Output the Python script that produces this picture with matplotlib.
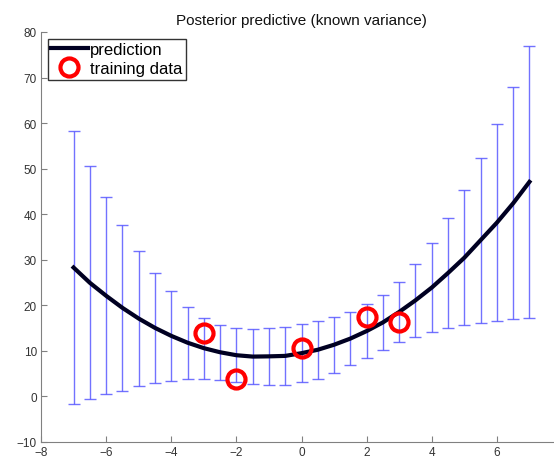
import numpy as np
import matplotlib
matplotlib.use("Agg")
import matplotlib.pyplot as plt

# ------------------------------------- Data -----#
x_grid = [-7, -6.5, -6, -5.5, -5, -4.5, -4, -3.5, -3, -2.5, -2, -1.5, -1, -0.5,
          0, 0.5, 1, 1.5, 2, 2.5, 3, 3.5, 4, 4.5, 5, 5.5, 6, 6.5, 7]
upper = [58.2, 50.5, 43.7, 37.6, 31.9, 27.1, 23.1, 19.7, 17.3, 15.7, 15.0, 14.7, 15.0, 15.2,
         15.9, 16.6, 17.5, 18.6, 20.2, 22.3, 25.2, 29.1, 33.6, 39.2, 45.3, 52.4, 59.7, 67.9, 77.0]
lower = [-1.6, -0.6, 0.5, 1.3, 2.3, 3.0, 3.5, 3.9, 3.9, 3.7, 3.1, 2.8, 2.6, 2.6,
         3.1, 3.9, 5.2, 6.8, 8.5, 10.2, 11.9, 13.1, 14.2, 15.0, 15.6, 16.2, 16.6, 16.9, 17.2]
x_train = [-3, -2, 0, 2, 3]
y_train = [14.0, 3.8, 10.7, 17.5, 16.3]

x_grid = np.array(x_grid)
upper = np.array(upper)
lower = np.array(lower)
mu = (upper + lower) / 2
err = (upper - lower) / 2

plt.rcParams['font.family'] = ['Liberation Sans', 'DejaVu Sans']

fig = plt.figure(figsize=(5.54, 4.6), dpi=100)
ax = fig.add_axes([41 / 554, 17 / 460, 521 / 554, 410 / 460])

# error bars (mean +/- std)
ax.errorbar(x_grid, mu, yerr=err, fmt='none', ecolor=(0.35, 0.35, 1.0, 0.85),
            elinewidth=1.0, capsize=4, capthick=1.0, zorder=1)

# prediction curve
ax.plot(x_grid, mu, color='#000022', lw=3, label='prediction', zorder=2,
        solid_joinstyle='round')

# training points
ax.plot(x_train, y_train, 'o', mfc='none', mec='red', mew=3, ms=13,
        label='training data', zorder=3)

ax.set_xlim(-8, 8)
ax.set_ylim(-10, 80)
# the 8 tick falls outside the picture in the reference
ax.set_xticks(np.arange(-8, 7, 2))
ax.set_yticks(np.arange(-10, 81, 10))

for side in ['top', 'right']:
    ax.spines[side].set_visible(False)
for side in ['left', 'bottom']:
    ax.spines[side].set_color('#808080')
ax.tick_params(direction='in', length=4, color='#808080', labelcolor='#333333',
               labelsize=8.5, pad=3)

ax.set_title('Posterior predictive (known variance)', fontsize=11, pad=6, color='#111111')

leg = ax.legend(loc='upper left', fontsize=12, frameon=True, fancybox=False,
                borderpad=0.2, handlelength=2.2, handletextpad=0.15,
                labelspacing=0.25, borderaxespad=0.4)
leg.get_frame().set_edgecolor('black')
leg.get_frame().set_linewidth(1.0)

fig.savefig('out.png', dpi=100)
